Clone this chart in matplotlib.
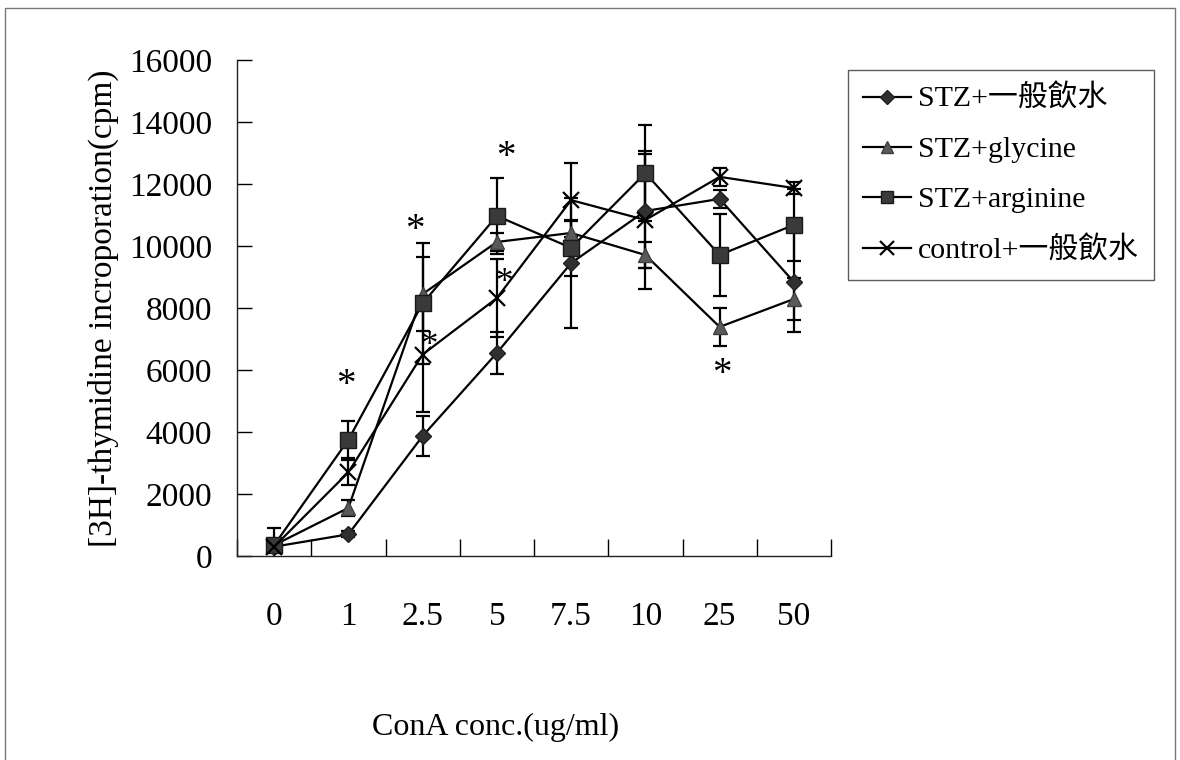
import numpy as np
import matplotlib
matplotlib.use('Agg')
import matplotlib.pyplot as plt
from matplotlib.patches import Rectangle

plt.rcParams['font.family'] = ['Liberation Serif', 'Noto Sans CJK TC']

# ConA concentrations (categorical axis)
conc_labels = ['0', '1', '2.5', '5', '7.5', '10', '25', '50']

# mean cpm and error for each group
stz_water = [300, 700, 3870, 6550, 9450, 11130, 11520, 8840]
stz_water_err = [80, 100, 640, 680, 2100, 1850, 300, 1600]
stz_gly = [350, 1550, 8450, 10130, 10420, 9710, 7390, 8290]
stz_gly_err = [100, 250, 1200, 300, 400, 430, 620, 680]
stz_arg = [350, 3750, 8150, 10970, 9940, 12350, 9710, 10680]
stz_arg_err = [550, 600, 1950, 1220, 900, 1550, 1320, 1160]
control_water = [300, 2700, 6500, 8320, 11480, 10840, 12230, 11870]
control_water_err = [100, 400, 1850, 1260, 1200, 2230, 300, 200]

series_names = ['STZ+一般飲水', 'STZ+glycine', 'STZ+arginine', 'control+一般飲水']

# significance marks (category position, cpm)
star_x = [0.97, 1.89, 2.08, 3.12, 3.10, 6.03]
star_y = [5500, 10500, 6750, 12850, 8800, 5850]
star_size = [28, 28, 25, 28, 25, 28]

x = np.arange(len(conc_labels))

fig = plt.figure(figsize=(11.8, 7.6), dpi=100)
ax = fig.add_axes([237/1180, 1 - 556/760, (831 - 237)/1180, (556 - 60)/760])

styles = [
    dict(marker='D', ms=8, mfc='#303030', mec='#202020'),
    dict(marker='^', ms=10, mfc='#5a5a5a', mec='#404040'),
    dict(marker='s', ms=11, mfc='#3a3a3a', mec='#1a1a1a'),
    dict(marker='x', ms=12, mfc='black', mec='black', mew=1.6),
]
data = [(stz_water, stz_water_err), (stz_gly, stz_gly_err),
        (stz_arg, stz_arg_err), (control_water, control_water_err)]

handles = []
for (y, e), st, name in zip(data, styles, series_names):
    ax.errorbar(x, y, yerr=e, fmt='none', ecolor='black', elinewidth=1.6,
                capsize=4.7, capthick=1.6, zorder=2)
    h, = ax.plot(x, y, color='black', lw=1.6, label=name, zorder=3, **st)
    handles.append(h)

for sx, sy, fs in zip(star_x, star_y, star_size):
    ax.text(sx, sy, '*', fontsize=fs, ha='center', va='center', color='black')

ax.set_xlim(-0.5, 7.5)
ax.set_ylim(0, 16000)
ax.set_yticks(np.arange(0, 16001, 2000))
ax.set_xticks(np.arange(-0.5, 8, 1))
ax.set_xticklabels([])
ax.set_xticks(x, minor=True)
ax.set_xticklabels(conc_labels, minor=True)
ax.tick_params(axis='x', which='major', direction='in', length=12, width=1)
ax.tick_params(axis='x', which='minor', length=0, pad=33, labelsize=24)
ax.tick_params(axis='y', direction='in', length=11, width=1, pad=18, labelsize=24)

for side in ['top', 'right']:
    ax.spines[side].set_visible(False)
for side in ['left', 'bottom']:
    ax.spines[side].set_color('#222222')
    ax.spines[side].set_linewidth(1)

fig.text(103/1180, 1 - 308/760, '[3H]-thymidine incroporation(cpm)',
         rotation=90, ha='center', va='center', fontsize=24)
fig.text(496/1180, 1 - 727/760, 'ConA conc.(ug/ml)',
         ha='center', va='center', fontsize=23)

leg = fig.legend(handles=handles, loc='upper left',
                 bbox_to_anchor=(848/1180, 1 - 70/760), fontsize=21.5,
                 frameon=True, fancybox=False, edgecolor='#333333',
                 handlelength=1.6, handletextpad=0.25, labelspacing=0.78,
                 borderpad=0.5, borderaxespad=0, markerscale=0.85)
leg.get_frame().set_linewidth(1)

# page frame
fig.patches.append(Rectangle((5/1180, -0.05), 1170/1180, 1.05 - 8/760,
                             transform=fig.transFigure, fill=False,
                             edgecolor='#777777', lw=1))

fig.savefig('out.png', dpi=100)
